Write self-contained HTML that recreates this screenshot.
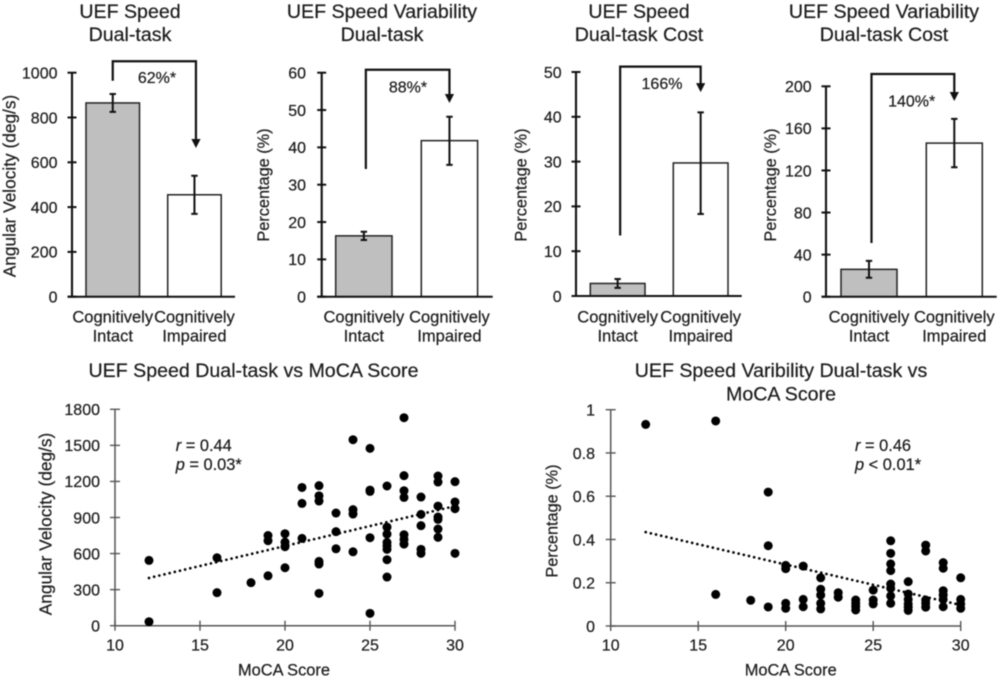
<!DOCTYPE html>
<html>
<head>
<meta charset="utf-8">
<title>UEF Speed Charts</title>
<style>
html,body{margin:0;padding:0;background:#fff;}
svg{display:block;position:absolute;left:0;top:0;filter:blur(0.4px);}
text{font-family:"Liberation Sans",sans-serif;fill:#1c1c1c;stroke:#1c1c1c;stroke-width:0.22px;}
</style>
</head>
<body>
<svg id="figure" xmlns="http://www.w3.org/2000/svg" width="1000" height="679" viewBox="0 0 1000 679"></svg>
<script>
// ---- Bar chart data ----
var barCategories = [["Cognitively","Intact"],["Cognitively","Impaired"]];

var speedTicks = [0,200,400,600,800,1000];
var speedMeans = [865,455];
var speedUpper = [905,540];
var speedLower = [825,370];
var speedBracket = [964,1051,664];

var variabilityTicks = [0,10,20,30,40,50,60];
var variabilityMeans = [16.3,41.8];
var variabilityUpper = [17.4,48.2];
var variabilityLower = [15.2,35.3];
var variabilityBracket = [34.2,60.8,51.9];

var speedCostTicks = [0,10,20,30,40,50];
var speedCostMeans = [2.8,29.7];
var speedCostUpper = [3.8,41];
var speedCostLower = [1.8,18.3];
var speedCostBracket = [13.5,51.2,45.5];

var variabilityCostTicks = [0,40,80,120,160,200];
var variabilityCostMeans = [26,146];
var variabilityCostUpper = [34,169];
var variabilityCostLower = [18,123];
var variabilityCostBracket = [51,211.7,186];

// ---- Scatter data ----
var xTickLabels = [10,15,20,25,30];

var speedScoreX = [12,12,16,16,18,19,19,19,20,20,20,20,21,21,21,22,22,22,22,22,22,23,23,23,24,24,24,24,25,25,25,25,25,26,26,26,26,26,26,26,26,27,27,27,27,27,27,27,28,28,28,28,28,29,29,29,29,29,29,29,30,30,30,30];
var speedVelocity = [543,33,565,275,358,750,707,415,765,695,657,482,1150,1017,726,1165,1080,1037,535,513,269,937,782,640,1547,965,929,615,1475,1128,1117,732,103,1162,820,762,693,665,635,549,405,1730,1248,1123,1067,757,718,679,1070,926,832,635,602,1245,1195,995,904,884,804,735,1198,1029,973,602];
var speedYTicks = [0,300,600,900,1200,1500,1800];
var speedTrendX = [12,30];
var speedTrendY = [397,995];

var varScoreX = [12,16,16,18,19,19,19,20,20,20,20,21,21,21,22,22,22,22,22,23,23,24,24,24,24,25,25,25,26,26,26,26,26,26,26,26,27,27,27,27,27,27,28,28,28,28,28,29,29,29,29,29,29,30,30,30,30];
var varPercent = [0.932,0.948,0.146,0.119,0.619,0.371,0.088,0.28,0.265,0.105,0.082,0.277,0.123,0.089,0.223,0.17,0.143,0.105,0.079,0.154,0.133,0.12,0.105,0.09,0.074,0.166,0.12,0.102,0.394,0.336,0.287,0.256,0.194,0.174,0.139,0.105,0.205,0.148,0.123,0.102,0.087,0.072,0.374,0.347,0.12,0.105,0.087,0.293,0.267,0.163,0.143,0.123,0.089,0.223,0.123,0.102,0.082];
var varYTicks = [0,0.2,0.4,0.6,0.8,1];
var varTrendX = [12,30];
var varTrendY = [0.434,0.097];

var NS = "http://www.w3.org/2000/svg";
var figure = document.getElementById("figure");

function make(parent, tag, props, content) {
  var el = document.createElementNS(NS, tag);
  for (var k in props) { el.setAttribute(k, props[k]); }
  if (content !== undefined) { el.textContent = content; }
  parent.appendChild(el);
  return el;
}

function linear(d0, d1, r0, r1) {
  return function (v) { return r0 + (v - d0) / (d1 - d0) * (r1 - r0); };
}

function drawBarChart(cfg, ticks, means, upper, lower, bracket) {
  var el;
  var g = make(figure, "g", {});
  
  

  var y = linear(ticks[0], ticks[ticks.length - 1], cfg.y0, cfg.yTop);

  cfg.title.forEach(function (line, i) {
    var t = make(g, "text", {x: cfg.titleX, y: 18 + i * 23, "text-anchor": "middle", "font-size": 19.6}, line);
    
    
  });

  ticks.forEach(function (v) {
    var tk = make(g, "line", {x1: cfg.axisX - 4.5, x2: cfg.axisX + 4.5, y1: y(v), y2: y(v), stroke: "#111", "stroke-width": 2});
    
    
    var lb = make(g, "text", {x: cfg.labelX, y: y(v) + 5.8, "text-anchor": "end", "font-size": 16}, String(v));
    
    
  });

  el = make(g, "text", {transform: "translate(" + cfg.yTitleX + " " + cfg.yTitleY + ") rotate(-90)", "text-anchor": "middle", "font-size": cfg.yTitleSize}, cfg.yTitle);
  
  

  means.forEach(function (m, i) {
    var left = cfg.barLeft[i];
    var bar = make(g, "rect", {x: left, y: y(m), width: cfg.barWidth, height: cfg.y0 - y(m), fill: i === 0 ? "#bfbfbf" : "#fff", stroke: "#222", "stroke-width": 1.5});
    
    
  });

  el = make(g, "line", {x1: cfg.axisX, x2: cfg.axisX, y1: y(ticks[ticks.length - 1]), y2: cfg.y0, stroke: "#111", "stroke-width": 2.1});
  
  
  el = make(g, "line", {x1: cfg.axisX - 4.5, x2: cfg.axisEnd, y1: cfg.y0, y2: cfg.y0, stroke: "#111", "stroke-width": 2});
  
  

  means.forEach(function (m, i) {
    var cx = cfg.barLeft[i] + cfg.barWidth / 2;
    var d = "M" + (cx - 3.2) + " " + y(upper[i]) + "H" + (cx + 3.2) + "M" + cx + " " + y(upper[i]) + "V" + y(lower[i]) + "M" + (cx - 3.2) + " " + y(lower[i]) + "H" + (cx + 3.2);
    var eb = make(g, "path", {d: d, fill: "none", stroke: "#111", "stroke-width": 2});
    
    

    barCategories[i].forEach(function (line, j) {
      var c = make(g, "text", {x: cx, y: 322.7 + j * 19, "text-anchor": "middle", "font-size": 16.5}, line);
      
      
    });
  });

  var x1 = cfg.barLeft[0] + cfg.barWidth / 2 + cfg.arrowShift[0];
  var x2 = cfg.barLeft[1] + cfg.barWidth / 2 + cfg.arrowShift[1];
  var tip = y(bracket[2]);
  el = make(g, "path", {d: "M" + x1 + " " + y(bracket[0]) + "V" + y(bracket[1]) + "H" + x2 + "V" + (tip - 6), fill: "none", stroke: "#111", "stroke-width": 2.2});
  
  
  el = make(g, "polygon", {points: (x2 - 4.6) + "," + (tip - 9) + " " + (x2 + 4.6) + "," + (tip - 9) + " " + x2 + "," + tip, fill: "#111"});
  
  
  el = make(g, "text", {x: cfg.noteX, y: cfg.noteY, "text-anchor": "middle", "font-size": 16}, cfg.note);
  
  
}

function drawScatter(cfg, xs, ys, yTicks, trendX, trendY) {
  var el;
  var g = make(figure, "g", {});
  
  

  var x = linear(xTickLabels[0], xTickLabels[xTickLabels.length - 1], cfg.x0, cfg.x1);
  var y = linear(yTicks[0], yTicks[yTicks.length - 1], cfg.y0, cfg.yTop);

  cfg.title.forEach(function (line, i) {
    var t = make(g, "text", {x: cfg.titleX, y: 377 + i * 23.5, "text-anchor": "middle", "font-size": 19.6}, line);
    
    
  });

  el = make(g, "line", {x1: cfg.x0, x2: cfg.x0, y1: cfg.yTop, y2: cfg.y0, stroke: "#555", "stroke-width": 1.5});
  
  
  el = make(g, "line", {x1: cfg.x0, x2: cfg.x1, y1: cfg.y0, y2: cfg.y0, stroke: "#555", "stroke-width": 1.5});
  
  

  yTicks.forEach(function (v) {
    var tk = make(g, "line", {x1: cfg.x0 - 5, x2: cfg.x0 + 5, y1: y(v), y2: y(v), stroke: "#555", "stroke-width": 1.4});
    
    
    var lb = make(g, "text", {x: cfg.labelX, y: y(v) + 5.8, "text-anchor": "end", "font-size": 16}, String(v));
    
    
  });

  xTickLabels.forEach(function (v) {
    var tk = make(g, "line", {x1: x(v), x2: x(v), y1: cfg.y0 - 5, y2: cfg.y0 + 5, stroke: "#555", "stroke-width": 1.4});
    
    
    var lb = make(g, "text", {x: x(v), y: 650.7, "text-anchor": "middle", "font-size": 16}, String(v));
    
    
  });

  el = make(g, "text", {x: cfg.xTitleX, y: 675.7, "text-anchor": "middle", "font-size": 16.4}, "MoCA Score");
  
  
  el = make(g, "text", {transform: "translate(" + cfg.yTitleX + " " + cfg.yTitleY + ") rotate(-90)", "text-anchor": "middle", "font-size": cfg.yTitleSize}, cfg.yTitle);
  
  

  xs.forEach(function (v, i) {
    var dot = make(g, "circle", {cx: x(v), cy: y(ys[i]), r: 4.5, fill: "#000"});
    
    
  });

  el = make(g, "line", {x1: x(trendX[0]), y1: y(trendY[0]), x2: x(trendX[1]), y2: y(trendY[1]), stroke: "#000", "stroke-width": 2.7, "stroke-linecap": "round", "stroke-dasharray": "0 5.3"});
  
  

  var r = make(g, "text", {x: cfg.statX, y: 451, "font-size": 16.4});
  
  
  make(r, "tspan", {"font-style": "italic"}, "r");
  make(r, "tspan", {}, " = " + cfg.r);
  var p = make(g, "text", {x: cfg.statX, y: 470, "font-size": 16.4});
  
  
  make(p, "tspan", {"font-style": "italic"}, "p");
  make(p, "tspan", {}, " " + cfg.p);
}

drawBarChart({name: "uef-speed-dual-task-chart", title: ["UEF Speed", "Dual-task"], titleX: 130, yTitle: "Angular Velocity (deg/s)", yTitleSize: 17.3, yTitleX: 15.7, yTitleY: 186, axisX: 72, axisEnd: 235, y0: 296.7, yTop: 72.7, labelX: 57.5, barLeft: [86, 167.7], barWidth: 53.5, arrowShift: [0, 1.5], note: "62%*", noteX: 157, noteY: 83}, speedTicks, speedMeans, speedUpper, speedLower, speedBracket);

drawBarChart({name: "uef-speed-variability-dual-task-chart", title: ["UEF Speed Variability", "Dual-task"], titleX: 382, yTitle: "Percentage (%)", yTitleSize: 16.3, yTitleX: 269, yTitleY: 185, axisX: 321.7, axisEnd: 492.7, y0: 296.7, yTop: 72.7, labelX: 306, barLeft: [335.7, 421.3], barWidth: 56.3, arrowShift: [2, 0], note: "88%*", noteX: 408, noteY: 92.7}, variabilityTicks, variabilityMeans, variabilityUpper, variabilityLower, variabilityBracket);

drawBarChart({name: "uef-speed-dual-task-cost-chart", title: ["UEF Speed", "Dual-task Cost"], titleX: 639, yTitle: "Percentage (%)", yTitleSize: 16.3, yTitleX: 526.7, yTitleY: 185, axisX: 576, axisEnd: 741.7, y0: 296, yTop: 72, labelX: 561.7, barLeft: [590.3, 673.3], barWidth: 54.7, arrowShift: [2.5, 0], note: "166%", noteX: 662, noteY: 89}, speedCostTicks, speedCostMeans, speedCostUpper, speedCostLower, speedCostBracket);

drawBarChart({name: "uef-speed-variability-dual-task-cost-chart", title: ["UEF Speed Variability", "Dual-task Cost"], titleX: 884, yTitle: "Percentage (%)", yTitleSize: 16.3, yTitleX: 776, yTitleY: 185, axisX: 826, axisEnd: 996.7, y0: 296.7, yTop: 86.3, labelX: 811.7, barLeft: [841, 926.3], barWidth: 56, arrowShift: [2.5, 0], note: "140%*", noteX: 911.7, noteY: 106.7}, variabilityCostTicks, variabilityCostMeans, variabilityCostUpper, variabilityCostLower, variabilityCostBracket);

drawScatter({name: "speed-vs-moca-scatter", title: ["UEF Speed Dual-task vs MoCA Score"], titleX: 253.5, x0: 115, x1: 455, y0: 625.7, yTop: 409.3, labelX: 100, xTitleX: 284, yTitle: "Angular Velocity (deg/s)", yTitleSize: 17.3, yTitleX: 51.7, yTitleY: 524, statX: 175.7, r: "0.44", p: "= 0.03*"}, speedScoreX, speedVelocity, speedYTicks, speedTrendX, speedTrendY);

drawScatter({name: "variability-vs-moca-scatter", title: ["UEF Speed Varibility Dual-task vs", "MoCA Score"], titleX: 781, x0: 610.7, x1: 960.7, y0: 626, yTop: 409.7, labelX: 595, xTitleX: 790.7, yTitle: "Percentage (%)", yTitleSize: 16.3, yTitleX: 557.3, yTitleY: 521, statX: 855, r: "0.46", p: "< 0.01*"}, varScoreX, varPercent, varYTicks, varTrendX, varTrendY);
</script>
</body>
</html>
